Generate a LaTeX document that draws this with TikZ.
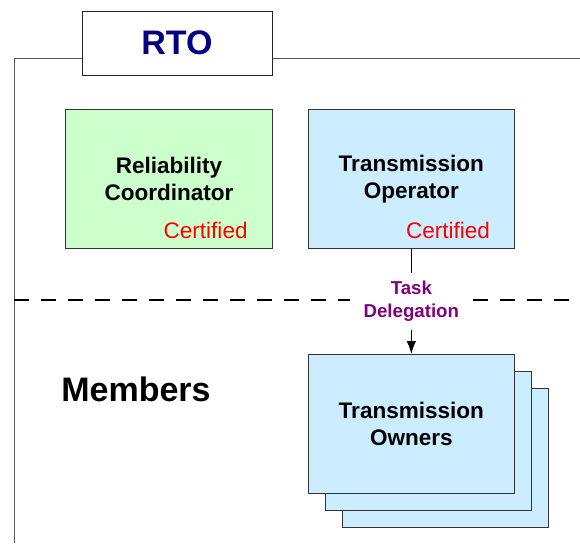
\documentclass[tikz,border=0pt]{standalone}
\usepackage{fontspec}
\setmainfont{Liberation Sans}
\usetikzlibrary{arrows.meta, positioning, calc, backgrounds}
\definecolor{rtoblue}{HTML}{000080}
\definecolor{rcgreen}{HTML}{CCFFCC}
\definecolor{tblue}{HTML}{CCECFF}
\definecolor{delegpurple}{HTML}{800080}
\tikzstyle{rtobox} = [
    rectangle, 
    minimum width=142.5pt, 
    minimum height=48pt, 
    draw=black!85, 
    fill=white, 
    line width=0.75pt, 
    text=rtoblue, 
    font=\fontsize{25.5}{30}\selectfont\bfseries
]
\tikzstyle{entity} = [
    rectangle, 
    minimum width=155pt, 
    minimum height=104pt, 
    draw=black!80, 
    line width=0.75pt, 
    align=center, 
    font=\fontsize{16.9}{20.25}\selectfont\bfseries
]
\tikzstyle{cert} = [
    inner sep=0pt, 
    anchor=base east, 
    text=red, 
    font=\fontsize{16.9}{20.25}\selectfont
]
\tikzstyle{deleglabel} = [
    fill=white, 
    inner xsep=10pt, 
    inner ysep=6.2pt, 
    align=center, 
    text=delegpurple, 
    font=\fontsize{14}{17.25}\selectfont\bfseries
]
\tikzstyle{frame} = [draw=black!65, line width=0.75pt]
\tikzstyle{divider} = [line width=1.5pt, dash pattern=on 11.25pt off 9pt]
\tikzstyle{link} = [line width=0.75pt]
\tikzstyle{arrow} = [-{Latex[length=9.5pt,width=7pt]}, line width=0.75pt]

\begin{document}
\begin{tikzpicture}[x=0.75pt, y=-0.75pt]
    \useasboundingbox (0,0) rectangle (580,543);

    % RTO frame
    \coordinate (framecorner) at (14,58);
    \node (rto) [rtobox] at (177,43) {RTO};
    \draw [frame] (14,543) -- (framecorner) -- (framecorner -| rto.west);
    \draw [frame] (framecorner -| rto.east) -- (580,58);

    % Certified entities
    \node (rc) [entity, fill=rcgreen] at (169,179) {Reliability\\Coordinator};
    \node (top) [entity, fill=tblue, right=26pt of rc] {Transmission\\Operator};
    \node [cert] at ($(rc.south east)+(-25,-10)$) {Certified};
    \node [cert] at ($(top.south east)+(-25,-10)$) {Certified};

    % Members
    \draw [divider] (14,300) -- (580,300);
    \node (members) [font=\fontsize{25.5}{30}\selectfont\bfseries] at (136,389) {Members};

    \node (owners) [entity, fill=tblue, below=78.75pt of top] {Transmission\\Owners};
    \begin{scope}[on background layer]
        \foreach \k in {2,1} {
            \node (owners\k) [entity, fill=tblue] at ($(owners)+(17*\k,17*\k)$) {};
        }
    \end{scope}

    % Task delegation
    \node (deleg) [deleglabel] at ($(top.south)!0.5!(owners.north)$) {Task\\Delegation};
    \draw [link] (top.south) -- (deleg.north);
    \draw [arrow] (deleg.south) -- (owners.north);
\end{tikzpicture}
\end{document}
